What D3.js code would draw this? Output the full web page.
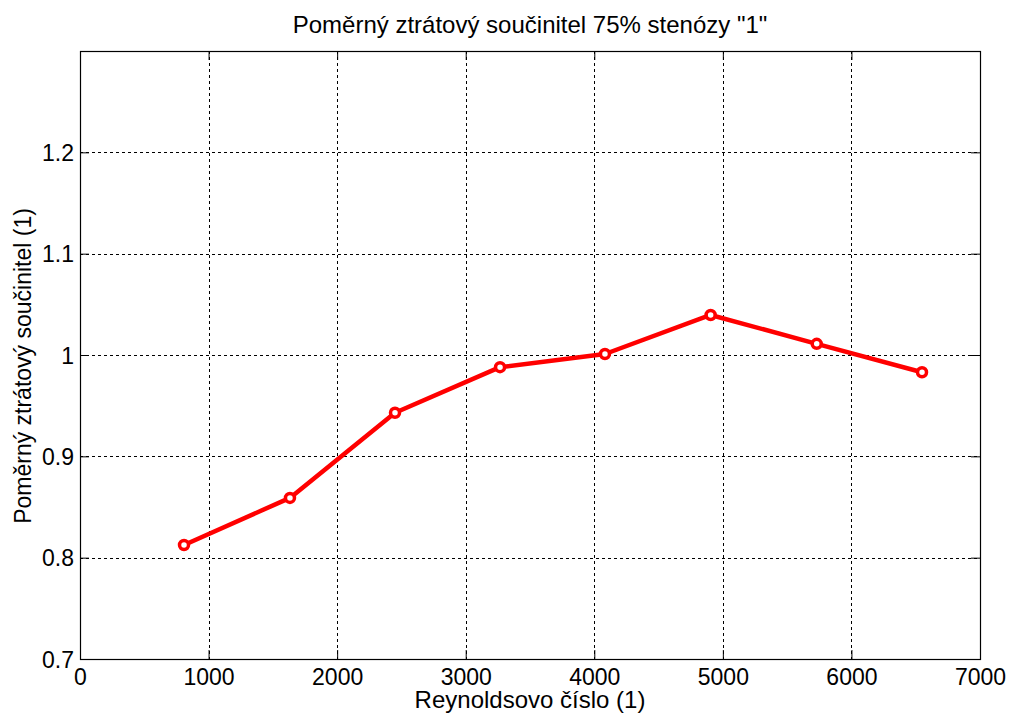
<!DOCTYPE html>
<html>
<head>
<meta charset="utf-8">
<script src="https://cdn.jsdelivr.net/npm/d3@7"></script>
<style>
  body { margin: 0; background: #fff; }
  text { font-family: "Liberation Sans", Arial, sans-serif; fill: #000; }
</style>
</head>
<body>
<div id="chart"></div>
<script>
var reynolds = [809, 1633, 2450, 3267, 4083, 4905, 5730, 6549];
var lossCoef = [0.8125, 0.859, 0.943, 0.988, 1.001, 1.0395, 1.011, 0.983];

var xTicks = [0, 1000, 2000, 3000, 4000, 5000, 6000, 7000];
var yTicks = [0.7, 0.8, 0.9, 1.0, 1.1, 1.2, 1.3];
var yTickLabels = ["0.7", "0.8", "0.9", "1", "1.1", "1.2", ""];

var chartTitle = "Poměrný ztrátový součinitel 75% stenózy \"1\"";
var xTitle = "Reynoldsovo číslo (1)";
var yTitle = "Poměrný ztrátový součinitel (1)";

var dim = { width: 1010, height: 716 };
var plot = { left: 80, top: 51, right: 980, bottom: 659 };

var svg = d3.select("#chart").append("svg")
    .attr("width", dim.width)
    .attr("height", dim.height);

var x = d3.scaleLinear().domain([0, 7000]).range([plot.left, plot.right]);
var y = d3.scaleLinear().domain([0.7, 1.3]).range([plot.bottom, plot.top]);

// grid
var grid = svg.append("g")
    .attr("stroke", "#000")
    .attr("stroke-width", 1)
    .attr("stroke-dasharray", "3,3");
grid.selectAll("line.gx").data(xTicks.slice(1, -1)).enter().append("line")
    .attr("x1", function(d) { return Math.round(x(d)) + 0.5; })
    .attr("x2", function(d) { return Math.round(x(d)) + 0.5; })
    .attr("y1", plot.top).attr("y2", plot.bottom);
grid.selectAll("line.gy").data(yTicks.slice(1, -1)).enter().append("line")
    .attr("x1", plot.left).attr("x2", plot.right)
    .attr("y1", function(d) { return Math.round(y(d)) + 0.5; })
    .attr("y2", function(d) { return Math.round(y(d)) + 0.5; });

// axes (ticks inside, matlab style)
var tickLen = 9;
svg.append("g")
    .attr("transform", "translate(0," + plot.bottom + ")")
    .call(d3.axisBottom(x).tickValues(xTicks).tickSize(-tickLen).tickPadding(26).tickFormat(d3.format("d")))
    .call(function(g) {
        g.select(".domain").remove();
        g.selectAll("text").attr("font-size", 23).attr("dy", "0");
    });
svg.append("g")
    .attr("transform", "translate(" + plot.left + ",0)")
    .call(d3.axisLeft(y).tickValues(yTicks).tickSize(-tickLen).tickPadding(6)
        .tickFormat(function(d, i) { return yTickLabels[i]; }))
    .call(function(g) {
        g.select(".domain").remove();
        g.selectAll("text").attr("font-size", 23).attr("dy", "0.36em");
    });
svg.append("g")
    .attr("transform", "translate(0," + plot.top + ")")
    .call(d3.axisTop(x).tickValues(xTicks).tickSize(-tickLen).tickFormat(""))
    .call(function(g) { g.select(".domain").remove(); });
svg.append("g")
    .attr("transform", "translate(" + plot.right + ",0)")
    .call(d3.axisRight(y).tickValues(yTicks).tickSize(-tickLen).tickFormat(""))
    .call(function(g) { g.select(".domain").remove(); });

svg.append("rect")
    .attr("x", plot.left + 0.5).attr("y", plot.top + 0.5)
    .attr("width", plot.right - plot.left).attr("height", plot.bottom - plot.top)
    .attr("fill", "none").attr("stroke", "#000").attr("stroke-width", 1.2);

// data line
var pts = reynolds.map(function(r, i) { return [r, lossCoef[i]]; });
var line = d3.line().x(function(d) { return x(d[0]); }).y(function(d) { return y(d[1]); });
svg.append("path").datum(pts)
    .attr("d", line)
    .attr("fill", "none")
    .attr("stroke", "#ff0000")
    .attr("stroke-width", 4.5)
    .attr("stroke-linejoin", "round");
svg.selectAll("circle.pt").data(pts).enter().append("circle")
    .attr("cx", function(d) { return x(d[0]); })
    .attr("cy", function(d) { return y(d[1]); })
    .attr("r", 4.5)
    .attr("fill", "#fff")
    .attr("stroke", "#ff0000")
    .attr("stroke-width", 3.5);

// titles
svg.append("text")
    .attr("x", (plot.left + plot.right) / 2).attr("y", 33)
    .attr("text-anchor", "middle").attr("font-size", 24)
    .text(chartTitle);
svg.append("text")
    .attr("x", (plot.left + plot.right) / 2).attr("y", 708)
    .attr("text-anchor", "middle").attr("font-size", 24)
    .text(xTitle);
svg.append("text")
    .attr("transform", "translate(31," + 366 + ") rotate(-90)")
    .attr("text-anchor", "middle").attr("font-size", 23)
    .text(yTitle);
</script>
</body>
</html>
